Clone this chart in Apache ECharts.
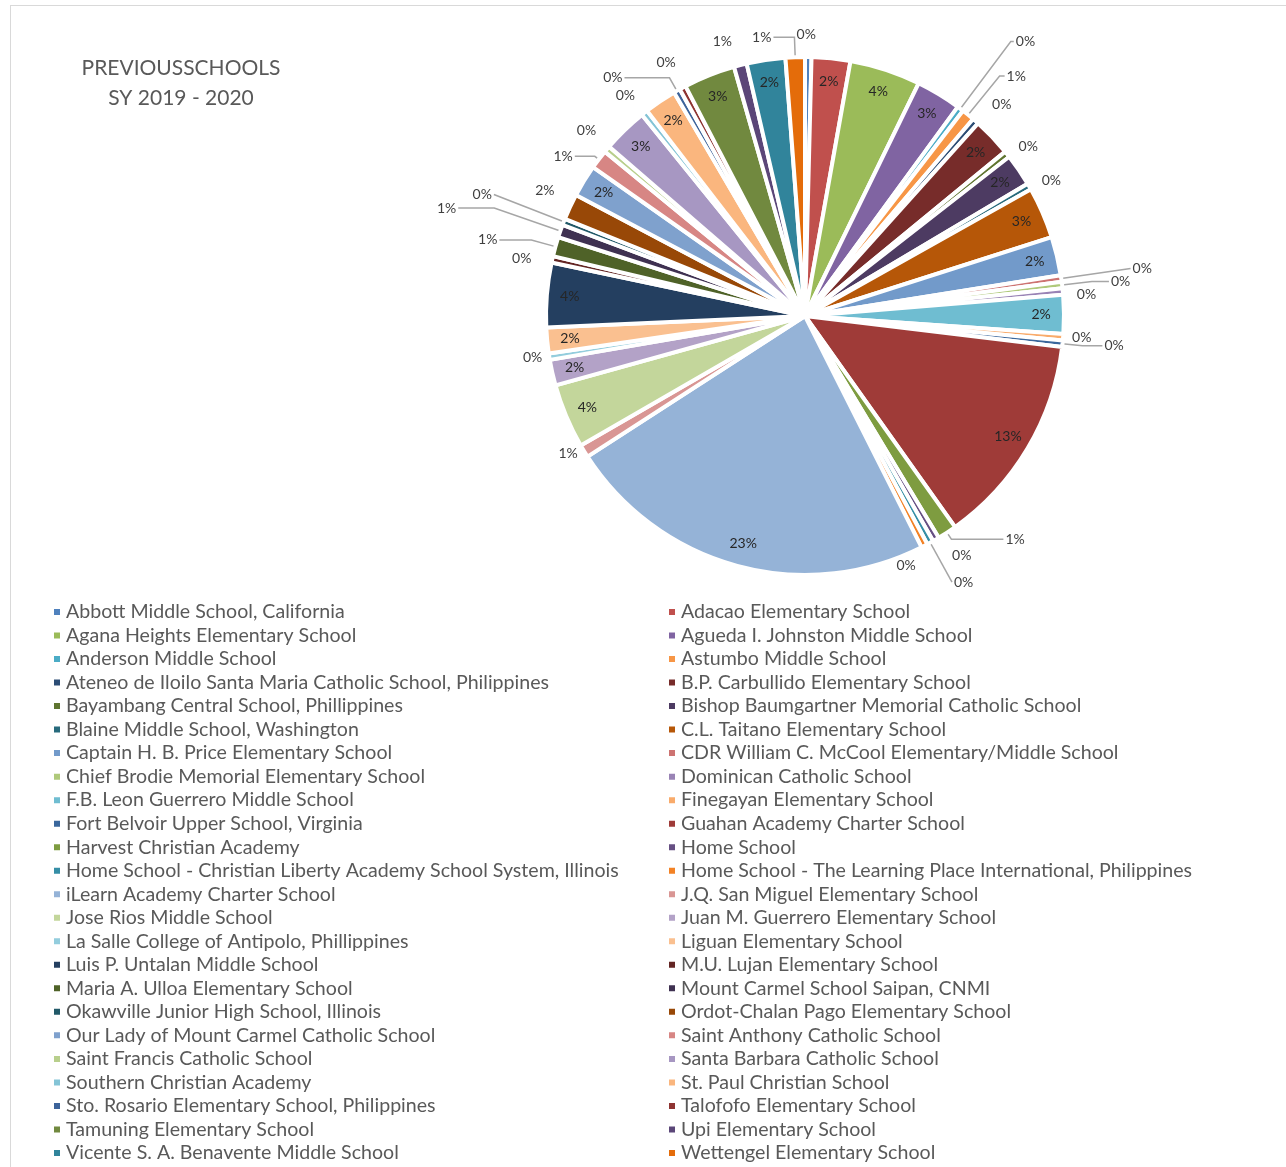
<!DOCTYPE html>
<html><head><meta charset="utf-8">
<script src="https://cdn.jsdelivr.net/npm/echarts@6/dist/echarts.min.js"></script>
<style>
html,body{margin:0;padding:0;background:#fff;overflow:hidden}
#frame{position:absolute;left:10px;top:5px;width:1400px;height:1400px;border:1px solid #d9d9d9;box-sizing:border-box}
#chart{position:absolute;left:0;top:0;width:1286px;height:1220px}
</style></head><body>
<div id="frame"></div><div id="chart"></div>
<script>
const categories = [
 "Abbott Middle School, California","Adacao Elementary School",
 "Agana Heights Elementary School","Agueda I. Johnston Middle School",
 "Anderson Middle School","Astumbo Middle School",
 "Ateneo de Iloilo Santa Maria Catholic School, Philippines","B.P. Carbullido Elementary School",
 "Bayambang Central School, Phillippines","Bishop Baumgartner Memorial Catholic School",
 "Blaine Middle School, Washington","C.L. Taitano Elementary School",
 "Captain H. B. Price Elementary School","CDR William C. McCool Elementary/Middle School",
 "Chief Brodie Memorial Elementary School","Dominican Catholic School",
 "F.B. Leon Guerrero Middle School","Finegayan Elementary School",
 "Fort Belvoir Upper School, Virginia","Guahan Academy Charter School",
 "Harvest Christian Academy","Home School",
 "Home School - Christian Liberty Academy School System, Illinois","Home School - The Learning Place International, Philippines",
 "iLearn Academy Charter School","J.Q. San Miguel Elementary School",
 "Jose Rios Middle School","Juan M. Guerrero Elementary School",
 "La Salle College of Antipolo, Phillippines","Liguan Elementary School",
 "Luis P. Untalan Middle School","M.U. Lujan Elementary School",
 "Maria A. Ulloa Elementary School","Mount Carmel School Saipan, CNMI",
 "Okawville Junior High School, Illinois","Ordot-Chalan Pago Elementary School",
 "Our Lady of Mount Carmel Catholic School","Saint Anthony Catholic School",
 "Saint Francis Catholic School","Santa Barbara Catholic School",
 "Southern Christian Academy","St. Paul Christian School",
 "Sto. Rosario Elementary School, Philippines","Talofofo Elementary School",
 "Tamuning Elementary School","Upi Elementary School",
 "Vicente S. A. Benavente Middle School","Wettengel Elementary School"
];
const students = [
 1,6, 11,7, 1,2, 1,6, 1,5, 1,8,
 6,1, 1,1, 6,1, 1,33, 3,1, 1,1,
 58,2, 10,4, 1,4, 10,1, 3,2, 1,4,
 5,3, 1,7, 1,5, 1,1, 8,2, 6,3
];
const palette = [
 "#4F81BD","#C0504D","#9BBB59","#8064A2","#4BACC6","#F79646",
 "#2C4D75","#772C2A","#5F7530","#4D3B62","#276A7C","#B65708",
 "#729ACA","#CD7371","#AFC97A","#9983B5","#6FBDD1","#F9AB6B",
 "#3A679C","#9F3B38","#7E9C40","#664F83","#358EA6","#F38225",
 "#95B3D7","#D99694","#C3D69B","#B3A2C7","#93CDDD","#FAC090",
 "#243F60","#632523","#4F6228","#3F3151","#215968","#984807",
 "#7FA1CD","#D78684","#B8CF8C","#A797C2","#84C4D6","#FAB67E",
 "#3C639A","#8E3432","#71893F","#5B4678","#31849B","#E46C0A"
];
// placement style of the outside percentage labels (leader lengths, nudges for labels without leaders)
const outsideLabelStyle = {
 "Abbott Middle School, California": {len:23, len2:0, line:false, dx:-14},
 "Anderson Middle School": {len:84, len2:3, line:true},
 "Astumbo Middle School": {len:50, len2:5, line:true},
 "Ateneo de Iloilo Santa Maria Catholic School, Philippines": {len:22, len2:0, line:false},
 "Bayambang Central School, Phillippines": {len:12, len2:0, line:false},
 "Blaine Middle School, Washington": {len:12, len2:0, line:false},
 "CDR William C. McCool Elementary/Middle School": {len:70, len2:0, line:true},
 "Chief Brodie Memorial Elementary School": {len:30, len2:17, line:true},
 "Dominican Catholic School": {len:8, len2:4, line:false, dy:4},
 "Finegayan Elementary School": {len:5, len2:2, line:false},
 "Fort Belvoir Upper School, Virginia": {len:20, len2:20, line:true},
 "Harvest Christian Academy": {len:8, len2:52, line:true},
 "Home School": {len:18, len2:5, line:false},
 "Home School - Christian Liberty Academy School System, Illinois": {len:45, len2:0, line:true},
 "Home School - The Learning Place International, Philippines": {len:0, len2:0, line:false, dx:-30, dy:20},
 "J.Q. San Miguel Elementary School": {len:5, len2:0, line:false},
 "La Salle College of Antipolo, Phillippines": {len:5, len2:0, line:false},
 "M.U. Lujan Elementary School": {len:5, len2:14, line:false},
 "Maria A. Ulloa Elementary School": {len:25, len2:32, line:true},
 "Mount Carmel School Saipan, CNMI": {len:70, len2:36, line:true},
 "Okawville Junior High School, Illinois": {len:75, len2:0, line:true},
 "Ordot-Chalan Pago Elementary School": {len:15, len2:0, line:false, dy:-10},
 "Saint Anthony Catholic School": {len:5, len2:20, line:true},
 "Saint Francis Catholic School": {len:22, len2:0, line:false, dx:8, dy:-4},
 "Southern Christian Academy": {len:12, len2:0, line:false, dy:-8},
 "Sto. Rosario Elementary School, Philippines": {len:15, len2:45, line:true},
 "Talofofo Elementary School": {len:40, len2:0, line:false, dx:14, dy:10},
 "Upi Elementary School": {len:25, len2:0, line:false},
 "Wettengel Elementary School": {len:20, len2:21, line:true}
};

const total = students.reduce((a,b)=>a+b,0);
const pct = v => Math.round(v/total*100) + '%';
const isOutside = i => !!outsideLabelStyle[categories[i]];
const FONT = 'Lato';
const CX = 805, CY = 316, R = 259;

const mainData = categories.map((n,i)=>{
  const st = outsideLabelStyle[n];
  return {
    name:n, value:students[i], itemStyle:{color:palette[i]},
    label:{show:!!st},
    labelLine: st ? {show:st.line, length:st.len, length2:st.len2} : {show:false}
  };
});
const overlayData = categories.map((n,i)=>({
  name:n, value:students[i],
  label:{show:!isOutside(i)}
}));

const chart = echarts.init(document.getElementById('chart'), null, {renderer:'canvas'});
chart.setOption({
  animation:false,
  color: palette,
  title:{
    text:'PREVIOUSSCHOOLS\nSY 2019 - 2020', left:176, top:48, textAlign:'center',
    textStyle:{fontFamily:FONT, fontSize:21, fontWeight:'normal', color:'#595959', lineHeight:30}
  },
  legend:[
    {orient:'vertical', left:52, top:602, padding:0, selectedMode:false, icon:'rect', itemWidth:8, itemHeight:8, itemGap:3.52,
     data: categories.filter((_,i)=>i%2===0),
     textStyle:{fontFamily:FONT, fontSize:19.6, color:'#595959', lineHeight:20}},
    {orient:'vertical', left:667, top:602, padding:0, selectedMode:false, icon:'rect', itemWidth:8, itemHeight:8, itemGap:3.52,
     data: categories.filter((_,i)=>i%2===1),
     textStyle:{fontFamily:FONT, fontSize:19.6, color:'#595959', lineHeight:20}}
  ],
  series:[
    {type:'pie', center:[CX,CY], radius:R, startAngle:90, clockwise:true,
     avoidLabelOverlap:false, emphasis:{disabled:true},
     itemStyle:{borderColor:'#fff', borderWidth:4},
     label:{position:'outside', formatter:p=>pct(p.value), color:'#404040', fontFamily:FONT, fontSize:14, distanceToLabelLine:2},
     labelLine:{length:8, length2:12, minTurnAngle:0, maxSurfaceAngle:180, lineStyle:{color:'#a6a6a6', width:1.5}},
     labelLayout: function(params){
       const st = outsideLabelStyle[categories[params.dataIndex]];
       if (st && !st.line && (st.dx || st.dy)) return {dx: st.dx || 0, dy: st.dy || 0};
       return {};
     },
     data: mainData},
    {type:'pie', center:[CX,CY], radius:[R*0.8, R], startAngle:90, clockwise:true, silent:true,
     emphasis:{disabled:true}, itemStyle:{color:'rgba(0,0,0,0)'},
     label:{position:'inside', formatter:p=>pct(p.value), color:'#262626', fontFamily:FONT, fontSize:14},
     labelLine:{show:false},
     data: overlayData}
  ]
});
</script></body></html>
